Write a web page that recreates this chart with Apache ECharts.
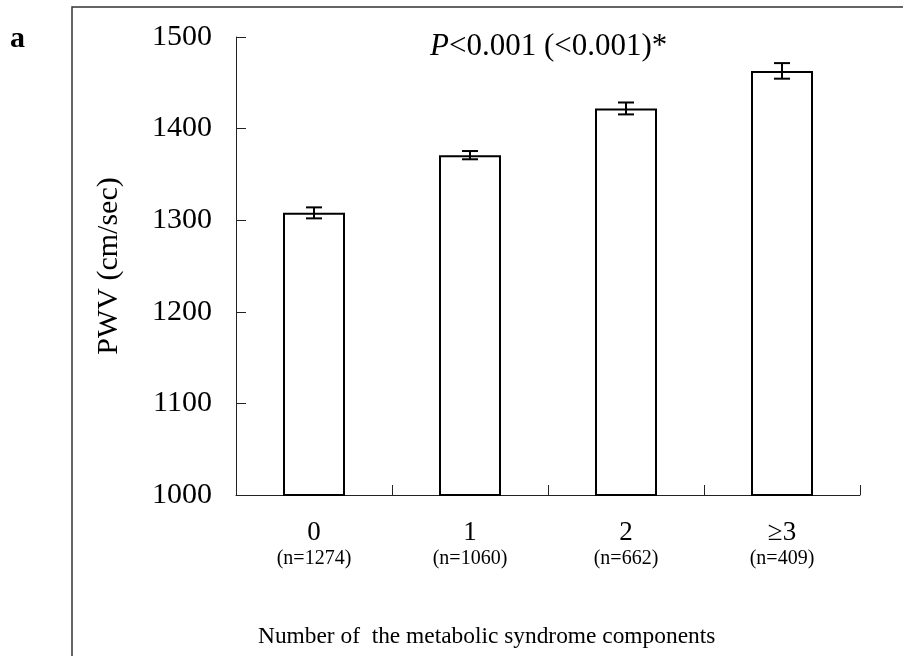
<!DOCTYPE html>
<html>
<head>
<meta charset="utf-8">
<script src="https://cdn.jsdelivr.net/npm/echarts@6/dist/echarts.min.js"></script>
<style>
  html, body { margin: 0; padding: 0; background: #fff; }
  #chart { width: 903px; height: 656px; }
</style>
</head>
<body>
<div id="chart"></div>
<script>
const categories = ['0', '1', '2', '≥3']
const counts = ['n=1274', 'n=1060', 'n=662', 'n=409']
const pwv = [1308, 1371, 1422, 1463]
const pwvErr = [6, 4.5, 6.5, 8.5]
const yTicks = { min: 1000, max: 1500, step: 100 }

const font = 'Liberation Serif'

const chart = echarts.init(document.getElementById('chart'))

const option = {
  backgroundColor: '#fff',
  animation: false,
  grid: { left: 236, right: 43, top: 37, bottom: 161 },
  xAxis: {
    type: 'category',
    data: categories.map((c, i) => c + '\n' + '(' + counts[i] + ')'),
    axisLine: { lineStyle: { color: '#222', width: 1 } },
    axisTick: { show: true, inside: true, length: 10, interval: 0, lineStyle: { color: '#222' } },
    axisLabel: {
      margin: 23,
      interval: 0,
      formatter: v => {
        const parts = v.split('\n')
        return '{a|' + parts[0] + '}\n{b|' + parts[1] + '}'
      },
      rich: {
        a: { fontFamily: font, fontSize: 27, lineHeight: 29, color: '#000' },
        b: { fontFamily: font, fontSize: 20, lineHeight: 24, color: '#000' }
      }
    }
  },
  yAxis: {
    type: 'value',
    min: yTicks.min,
    max: yTicks.max,
    interval: yTicks.step,
    name: 'PWV (cm/sec)',
    nameLocation: 'middle',
    nameGap: 112,
    nameTextStyle: { fontFamily: font, fontSize: 30, color: '#000' },
    splitLine: { show: false },
    axisLine: { show: true, lineStyle: { color: '#222', width: 1 } },
    axisTick: { show: true, inside: true, length: 10, lineStyle: { color: '#222' } },
    axisLabel: { fontFamily: font, fontSize: 30, color: '#000', margin: 24, formatter: v => String(v) }
  },
  graphic: [
    {
      type: 'rect',
      shape: { x: 72, y: 7, width: 900, height: 720 },
      style: { fill: 'none', stroke: '#333', lineWidth: 1.5 },
      z: -1
    },
    {
      type: 'text',
      x: 10, y: 39,
      style: {
        text: 'a', fontFamily: font, fontSize: 30, fontWeight: 'bold', fill: '#000',
        align: 'left', textAlign: 'left', verticalAlign: 'middle', textVerticalAlign: 'middle'
      }
    },
    {
      type: 'text',
      x: 430, y: 47,
      style: {
        text: '{i|P}<0.001 (<0.001)*',
        fontFamily: font, fontSize: 31, fill: '#000',
        align: 'left', textAlign: 'left', verticalAlign: 'middle', textVerticalAlign: 'middle',
        rich: { i: { fontFamily: font, fontSize: 31, fontStyle: 'italic', fill: '#000' } }
      }
    },
    {
      type: 'text',
      x: 258, y: 637,
      style: {
        text: 'Number of  the metabolic syndrome components',
        fontFamily: font, fontSize: 23.4, fill: '#000',
        align: 'left', textAlign: 'left', verticalAlign: 'middle', textVerticalAlign: 'middle'
      }
    }
  ],
  series: [
    {
      type: 'bar',
      data: pwv,
      barWidth: 62,
      itemStyle: { color: '#fff', borderColor: '#000', borderWidth: 2 }
    },
    {
      type: 'custom',
      data: pwv.map((v, i) => [i, v, pwvErr[i]]),
      z: 5,
      renderItem: (params, api) => {
        const x = api.value(0)
        const v = api.value(1)
        const e = api.value(2)
        const hi = api.coord([x, v + e])
        const lo = api.coord([x, v - e])
        const half = 8
        const style = { stroke: '#000', lineWidth: 2 }
        return {
          type: 'group',
          children: [
            { type: 'line', shape: { x1: hi[0], y1: hi[1], x2: lo[0], y2: lo[1] }, style },
            { type: 'line', shape: { x1: hi[0] - half, y1: hi[1], x2: hi[0] + half, y2: hi[1] }, style },
            { type: 'line', shape: { x1: lo[0] - half, y1: lo[1], x2: lo[0] + half, y2: lo[1] }, style }
          ]
        }
      }
    }
  ]
}

chart.setOption(option)
</script>
</body>
</html>
